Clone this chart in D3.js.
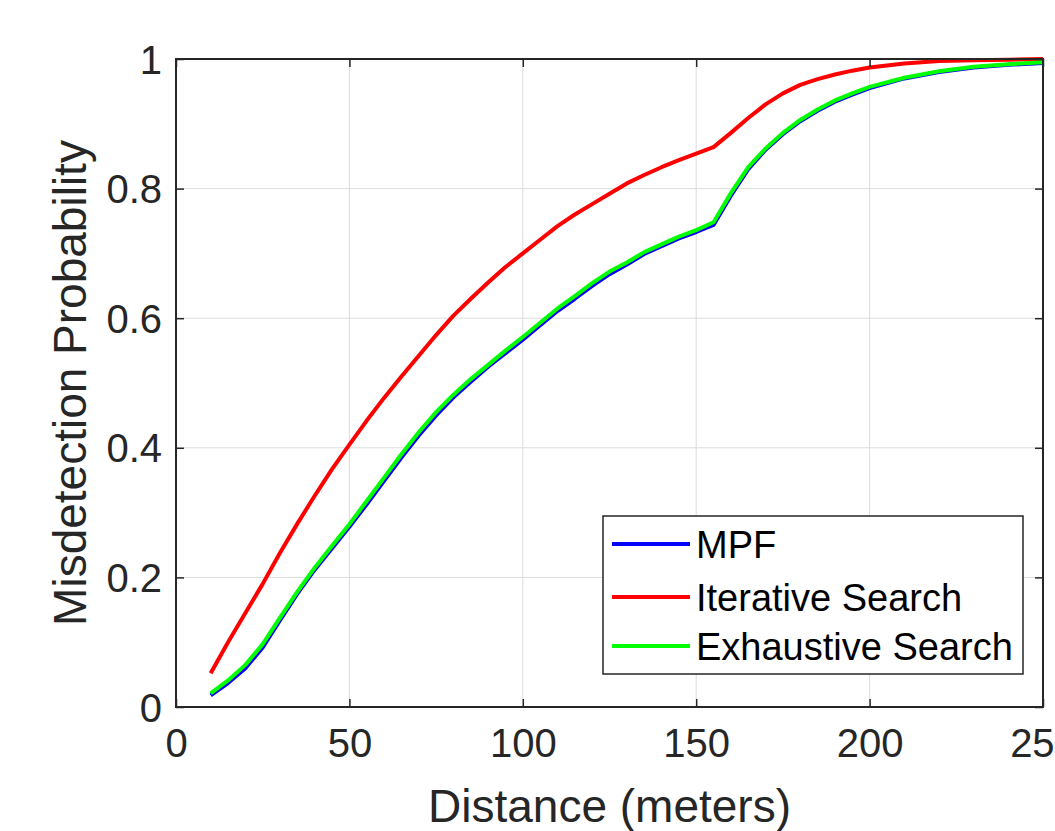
<!DOCTYPE html>
<html>
<head>
<meta charset="utf-8">
<script src="https://cdn.jsdelivr.net/npm/d3@7/dist/d3.min.js"></script>
<style>
  html, body { margin: 0; padding: 0; background: #fff; overflow: hidden; }
  svg { display: block; font-family: "Liberation Sans", Arial, Helvetica, sans-serif; }
</style>
</head>
<body>
<div id="chart"></div>
<script>
// 数据
const distances = [10, 15, 20, 25, 30, 35, 40, 45, 50, 55, 60, 65, 70, 75, 80, 85, 90, 95,
  100, 105, 110, 115, 120, 125, 130, 135, 140, 145, 150, 155, 160, 165, 170, 175, 180, 185,
  190, 195, 200, 210, 220, 230, 240, 250];

const mpfValues = [0.018, 0.037, 0.060, 0.092, 0.134, 0.175, 0.212, 0.245, 0.278, 0.313,
  0.349, 0.385, 0.419, 0.450, 0.478, 0.502, 0.525, 0.546, 0.567, 0.589, 0.611, 0.630,
  0.650, 0.668, 0.683, 0.699, 0.711, 0.723, 0.733, 0.744, 0.789, 0.830, 0.860, 0.884,
  0.904, 0.920, 0.934, 0.945, 0.955, 0.970, 0.980, 0.987, 0.991, 0.994];

const iterativeValues = [0.052, 0.100, 0.145, 0.190, 0.238, 0.283, 0.326, 0.367, 0.405,
  0.442, 0.477, 0.510, 0.542, 0.574, 0.604, 0.630, 0.655, 0.679, 0.700, 0.721, 0.742,
  0.760, 0.776, 0.792, 0.808, 0.821, 0.833, 0.844, 0.854, 0.864, 0.886, 0.909, 0.930,
  0.947, 0.960, 0.969, 0.976, 0.982, 0.987, 0.993, 0.997, 0.998, 0.999, 1.000];

const exhaustiveValues = [0.021, 0.041, 0.065, 0.097, 0.138, 0.178, 0.215, 0.249, 0.282,
  0.318, 0.354, 0.390, 0.424, 0.455, 0.482, 0.506, 0.528, 0.550, 0.571, 0.593, 0.615,
  0.634, 0.654, 0.672, 0.686, 0.702, 0.714, 0.726, 0.736, 0.748, 0.793, 0.833, 0.862,
  0.886, 0.906, 0.922, 0.936, 0.947, 0.957, 0.971, 0.981, 0.988, 0.992, 0.995];

const seriesNames = ['MPF', 'Iterative Search', 'Exhaustive Search'];
const seriesColors = ['#0000ff', '#ff0000', '#00ff00'];
const xTicks = [0, 50, 100, 150, 200, 250];
const yTicks = [0, 0.2, 0.4, 0.6, 0.8, 1];

const width = 1055, height = 831;
const margin = { left: 176, top: 59, right: 1055 - 1043, bottom: 831 - 707 };
const plotW = width - margin.left - margin.right;
const plotH = height - margin.top - margin.bottom;
const axisColor = '#262626';

const svg = d3.select('#chart').append('svg')
  .attr('width', width)
  .attr('height', height);

const x = d3.scaleLinear().domain([0, 250]).range([margin.left, margin.left + plotW]);
const y = d3.scaleLinear().domain([0, 1]).range([margin.top + plotH, margin.top]);

// 网格线
const grid = svg.append('g');
grid.selectAll('line.vx')
  .data(xTicks.slice(1, -1))
  .enter().append('line')
  .attr('x1', d => x(d)).attr('x2', d => x(d))
  .attr('y1', y(0)).attr('y2', y(1))
  .attr('stroke', '#dcdcdc').attr('stroke-width', 1);
grid.selectAll('line.hy')
  .data(yTicks.slice(1, -1))
  .enter().append('line')
  .attr('x1', x(0)).attr('x2', x(250))
  .attr('y1', d => y(d)).attr('y2', d => y(d))
  .attr('stroke', '#dcdcdc').attr('stroke-width', 1);

// 曲线
const series = [mpfValues, iterativeValues, exhaustiveValues];
const line = d3.line()
  .x((d, i) => x(distances[i]))
  .y(d => y(d));

svg.append('defs').append('clipPath').attr('id', 'plot-clip')
  .append('rect')
  .attr('x', x(0)).attr('y', y(1) - 4)
  .attr('width', plotW).attr('height', plotH + 8);

svg.append('g')
  .attr('clip-path', 'url(#plot-clip)')
  .selectAll('path')
  .data(series)
  .enter().append('path')
  .attr('d', d => line(d))
  .attr('fill', 'none')
  .attr('stroke', (d, i) => seriesColors[i])
  .attr('stroke-width', 4)
  .attr('stroke-linejoin', 'round');

// 坐标轴
const xAxis = d3.axisBottom(x).tickValues(xTicks).tickSize(-8).tickPadding(22)
  .tickFormat(d3.format('d'));
const yAxis = d3.axisLeft(y).tickValues(yTicks).tickSize(-8).tickPadding(14)
  .tickFormat(d => d === 0 || d === 1 ? String(d) : d3.format('.1f')(d));

const gx = svg.append('g').attr('transform', `translate(0,${y(0)})`).call(xAxis);
const gy = svg.append('g').attr('transform', `translate(${x(0)},0)`).call(yAxis);

// 顶部与右侧的刻度
svg.append('g').attr('transform', `translate(0,${y(1)})`)
  .call(d3.axisTop(x).tickValues(xTicks).tickSize(-8).tickFormat(''));
svg.append('g').attr('transform', `translate(${x(250)},0)`)
  .call(d3.axisRight(y).tickValues(yTicks).tickSize(-8).tickFormat(''));

svg.selectAll('.domain').remove();
svg.selectAll('.tick line').attr('stroke', axisColor).attr('stroke-width', 1.5);
[gx, gy].forEach(g => g.selectAll('text')
  .attr('font-size', 40)
  .attr('fill', axisColor)
  .attr('font-family', '"Liberation Sans", Arial, sans-serif'));
gy.selectAll('text').attr('dy', '0.35em');

// 边框
svg.append('rect')
  .attr('x', x(0)).attr('y', y(1))
  .attr('width', plotW).attr('height', plotH)
  .attr('fill', 'none')
  .attr('stroke', axisColor)
  .attr('stroke-width', 2);

// 轴标题
svg.append('text')
  .attr('x', (x(0) + x(250)) / 2)
  .attr('y', 822)
  .attr('text-anchor', 'middle')
  .attr('font-size', 46)
  .attr('fill', axisColor)
  .text('Distance (meters)');

svg.append('text')
  .attr('transform', `translate(86,${(y(0) + y(1)) / 2}) rotate(-90)`)
  .attr('text-anchor', 'middle')
  .attr('font-size', 46)
  .attr('fill', axisColor)
  .text('Misdetection Probability');

// 图例
const legend = svg.append('g');
legend.append('rect')
  .attr('x', 603).attr('y', 516)
  .attr('width', 420).attr('height', 158)
  .attr('fill', '#fff')
  .attr('stroke', axisColor)
  .attr('stroke-width', 1.5);

const rowY = [544, 597, 646];
seriesNames.forEach((name, i) => {
  legend.append('line')
    .attr('x1', 612).attr('x2', 690)
    .attr('y1', rowY[i]).attr('y2', rowY[i])
    .attr('stroke', seriesColors[i])
    .attr('stroke-width', 4);
  legend.append('text')
    .attr('x', 696)
    .attr('y', rowY[i])
    .attr('dy', '0.36em')
    .attr('font-size', 38)
    .attr('fill', '#000')
    .text(name);
});
</script>
</body>
</html>
